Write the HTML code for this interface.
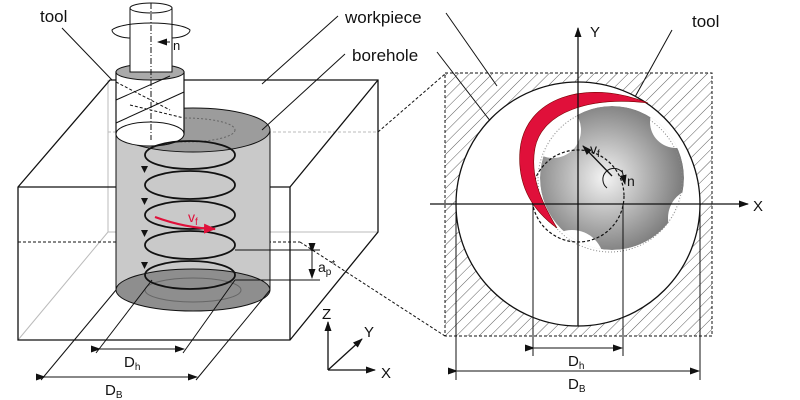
<!DOCTYPE html>
<html><head><meta charset="utf-8"><style>body{margin:0;background:#fff}svg{display:block}text{font-family:"Liberation Sans",sans-serif;fill:#111}</style></head>
<body>
<svg width="800" height="400" viewBox="0 0 800 400" xmlns="http://www.w3.org/2000/svg">
<defs>
<pattern id="h" width="8" height="8" patternUnits="userSpaceOnUse" patternTransform="rotate(45)"><line x1="0" y1="0" x2="0" y2="8" stroke="#333" stroke-width="0.8"/></pattern>
<radialGradient id="g" cx="0.45" cy="0.5" r="0.6"><stop offset="0" stop-color="#f4f4f4"/><stop offset="1" stop-color="#6f6f6f"/></radialGradient>
<clipPath id="tc"><circle cx="612" cy="178" r="72"/></clipPath>
<marker id="a" markerWidth="10" markerHeight="10" refX="9" refY="5" orient="auto" markerUnits="userSpaceOnUse"><path d="M0,1.5 L10,5 L0,8.5z" fill="#111"/></marker>
<marker id="r" markerWidth="12" markerHeight="12" refX="11" refY="6" orient="auto" markerUnits="userSpaceOnUse"><path d="M0,1 L12,6 L0,11z" fill="#e0103a"/></marker>
</defs>
<g stroke="#bbb" fill="none" stroke-width="1"><line x1="108" y1="80" x2="108" y2="232"/><line x1="108" y1="232" x2="378" y2="232"/><line x1="18" y1="340" x2="108" y2="232"/></g>
<line x1="108" y1="132" x2="378" y2="132" stroke="#bbb" stroke-dasharray="3,2"/>
<g stroke="#111" fill="none" stroke-width="1.3">
<path d="M18,187 L110,80 L378,80 L378,232 L290,340 L18,340 Z"/>
<line x1="18" y1="187" x2="290" y2="187"/><line x1="290" y1="187" x2="378" y2="80"/><line x1="290" y1="187" x2="290" y2="340"/>
</g>
<line x1="18" y1="242" x2="300" y2="242" stroke="#111" stroke-dasharray="3,2"/>
<rect x="116" y="130" width="154" height="160" fill="#c9c9c9" stroke="#111"/>
<ellipse cx="193" cy="130" rx="77" ry="22" fill="#9c9c9c" stroke="#111"/>
<ellipse cx="193" cy="290" rx="77" ry="21" fill="#8e8e8e" stroke="#111"/>
<ellipse cx="193" cy="290" rx="48" ry="12" fill="none" stroke="#666"/>
<ellipse cx="185" cy="130" rx="50" ry="12" fill="none" stroke="#666" stroke-dasharray="2,2"/>
<rect x="116" y="72" width="68" height="62" fill="#fff" stroke="#111" stroke-width="1.2"/>
<ellipse cx="150" cy="134" rx="34" ry="12" fill="#fff" stroke="#111"/>
<ellipse cx="150" cy="72" rx="34" ry="8" fill="#aaa" stroke="#111"/>
<g stroke="#111" fill="none"><line x1="116" y1="100" x2="170" y2="76"/><line x1="116" y1="123" x2="184" y2="92"/><line x1="130" y1="105" x2="184" y2="118" stroke-dasharray="3,2"/><line x1="116" y1="82" x2="170" y2="110" stroke-dasharray="3,2"/></g>
<rect x="130" y="8" width="42" height="64" fill="#fff" stroke="#111"/>
<ellipse cx="151" cy="8" rx="21" ry="5" fill="#fff" stroke="#111"/>
<line x1="151" y1="3" x2="151" y2="140" stroke="#111" stroke-dasharray="6,2,1,2"/>
<path d="M130,38 A19,8 0 0 1 112,30 A40,9 0 0 1 190,30 A19,8 0 0 1 172,38" fill="none" stroke="#111"/>
<line x1="170" y1="42" x2="158" y2="42" stroke="#111" marker-end="url(#a)"/>
<text x="173" y="50" font-size="13">n</text>
<g fill="none" stroke="#111" stroke-width="1.8">
<ellipse cx="190" cy="155" rx="45" ry="14"/><ellipse cx="190" cy="185" rx="45" ry="14"/><ellipse cx="190" cy="215" rx="45" ry="14"/><ellipse cx="190" cy="245" rx="45" ry="14"/><ellipse cx="190" cy="275" rx="45" ry="14"/>
</g>
<g fill="#111"><path d="M141,166 l7,0 l-3.5,7z"/><path d="M141,198 l7,0 l-3.5,7z"/><path d="M141,230 l7,0 l-3.5,7z"/><path d="M141,262 l7,0 l-3.5,7z"/></g>
<path d="M155,217 Q185,228 215,229" fill="none" stroke="#e0103a" stroke-width="2.2" marker-end="url(#r)"/>
<text x="188" y="222" font-size="14" style="fill:#e0103a">v<tspan font-size="10" dy="3" style="fill:#e0103a">f</tspan></text>
<g stroke="#111"><line x1="235" y1="250" x2="320" y2="250"/><line x1="235" y1="280" x2="320" y2="280"/><line x1="312" y1="252" x2="312" y2="278" marker-end="url(#a)" marker-start="url(#a)"/></g>
<text x="318" y="272" font-size="14">a<tspan font-size="10" dy="3">p</tspan><tspan font-size="10" dy="-8">*</tspan></text>
<g stroke="#111"><line x1="152" y1="280" x2="96" y2="353"/><line x1="235" y1="280" x2="183" y2="353"/><line x1="116" y1="290" x2="41" y2="380"/><line x1="270" y1="290" x2="196" y2="380"/>
<line x1="100" y1="349" x2="184" y2="349" marker-end="url(#a)" marker-start="url(#a)"/><line x1="45" y1="377" x2="197" y2="377" marker-end="url(#a)" marker-start="url(#a)"/></g>
<text x="124" y="367" font-size="15">D<tspan font-size="10" dy="3">h</tspan></text>
<text x="105" y="395" font-size="15">D<tspan font-size="10" dy="3">B</tspan></text>
<g stroke="#111" stroke-width="1.3"><line x1="328" y1="370" x2="328" y2="322" marker-end="url(#a)"/><line x1="328" y1="370" x2="375" y2="370" marker-end="url(#a)"/><line x1="328" y1="370" x2="362" y2="339" marker-end="url(#a)"/></g>
<text x="322" y="319" font-size="15">Z</text><text x="364" y="337" font-size="15">Y</text><text x="381" y="378" font-size="15">X</text>
<g stroke="#111"><line x1="62" y1="28" x2="112" y2="80"/><line x1="338" y1="16" x2="262" y2="84"/><line x1="345" y1="54" x2="262" y2="130"/><line x1="446" y1="13" x2="497" y2="86"/><line x1="437" y1="52" x2="498" y2="131"/><line x1="672" y1="30" x2="625" y2="115"/></g>
<text x="40" y="22" font-size="17">tool</text>
<text x="345" y="23" font-size="17">workpiece</text>
<text x="352" y="61" font-size="17">borehole</text>
<text x="692" y="27" font-size="17">tool</text>
<g stroke="#111" stroke-dasharray="3,2"><line x1="378" y1="132" x2="445" y2="74"/><line x1="300" y1="242" x2="445" y2="336"/></g>
<rect x="445" y="73" width="267" height="263" fill="url(#h)" stroke="#111" stroke-dasharray="3,2"/>
<circle cx="578" cy="204" r="122" fill="#fff" stroke="#111" stroke-width="1.3"/>
<g clip-path="url(#tc)">
<circle cx="612" cy="178" r="72" fill="url(#g)"/>
<g fill="#fff">
<circle cx="553" cy="130" r="28"/>
<circle cx="676" cy="122" r="26"/>
<circle cx="698" cy="218" r="30"/>
<circle cx="572" cy="262" r="32"/>
<circle cx="530" cy="210" r="14"/>
</g>
</g>
<circle cx="578" cy="196" r="46" fill="none" stroke="#111" stroke-dasharray="3,2" stroke-width="1.2"/>
<circle cx="610" cy="180" r="72" fill="none" stroke="#888" stroke-dasharray="1,2"/>
<path d="M648,103 C585,78 525,98 520,150 C517,185 532,210 557,228 C540,200 530,175 535,148 C542,112 590,96 648,103 Z" fill="#e0103a" stroke="#700" stroke-width="0.6"/>
<g stroke="#111" stroke-width="1.3"><line x1="430" y1="204" x2="748" y2="204" marker-end="url(#a)"/><line x1="578" y1="326" x2="578" y2="28" marker-end="url(#a)"/></g>
<text x="590" y="37" font-size="15">Y</text><text x="753" y="211" font-size="15">X</text>
<line x1="612" y1="176" x2="583" y2="146" stroke="#111" stroke-width="1.3" marker-end="url(#a)"/>
<text x="590" y="154" font-size="14">v<tspan font-size="10" dy="3">f</tspan></text>
<path d="M607,188 A11,11 0 1 1 622,172" fill="none" stroke="#111"/><line x1="622" y1="170" x2="625" y2="184" stroke="#111" marker-end="url(#a)"/>
<text x="627" y="186" font-size="14">n</text>
<g stroke="#111"><line x1="533" y1="204" x2="533" y2="356"/><line x1="623" y1="204" x2="623" y2="356"/><line x1="456" y1="204" x2="456" y2="380"/><line x1="700" y1="204" x2="700" y2="380"/>
<line x1="534" y1="348" x2="622" y2="348" marker-end="url(#a)" marker-start="url(#a)"/><line x1="457" y1="371" x2="699" y2="371" marker-end="url(#a)" marker-start="url(#a)"/></g>
<text x="568" y="366" font-size="15">D<tspan font-size="10" dy="3">h</tspan></text>
<text x="568" y="389" font-size="15">D<tspan font-size="10" dy="3">B</tspan></text>
</svg>
</body></html>
